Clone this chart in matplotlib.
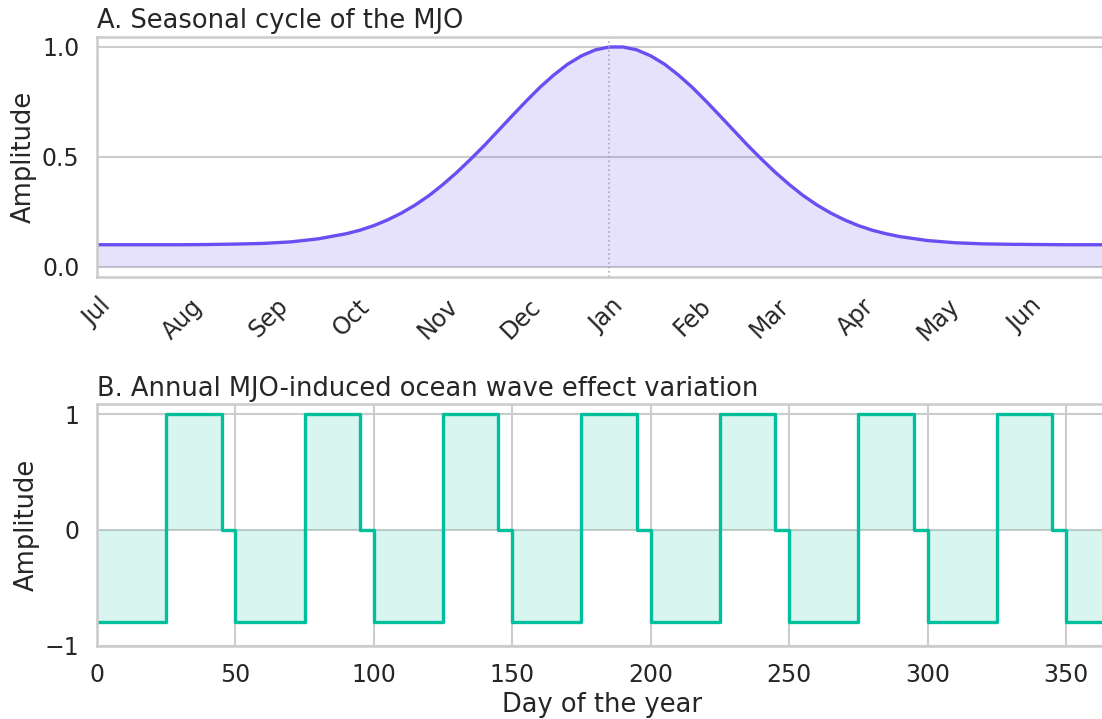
"""
MJO seasonal cycle and the annual wave-effect pattern
"""

import matplotlib
matplotlib.use('Agg')
import numpy as np
import matplotlib.pyplot as plt
import seaborn as sns

# Panel A: amplitude over the season, days counted from 1 Jul
season_days = [0, 10, 20, 30, 40, 50, 60, 70, 80, 90, 95,
               100, 105, 110, 115, 120, 125, 130, 135, 140, 145,
               150, 155, 160, 165, 170, 175, 180, 185, 190, 195,
               200, 205, 210, 215, 220, 225, 230, 235, 240, 245,
               250, 255, 260, 265, 270, 275, 280, 285, 290, 300,
               310, 320, 330, 340, 350, 365]
season_amp = [0.100, 0.100, 0.100, 0.100, 0.101, 0.103, 0.106, 0.113, 0.127, 0.150, 0.166,
              0.187, 0.213, 0.244, 0.281, 0.324, 0.374, 0.429, 0.489, 0.552, 0.619,
              0.686, 0.752, 0.815, 0.871, 0.920, 0.958, 0.985, 0.998, 0.998, 0.985,
              0.958, 0.920, 0.871, 0.815, 0.752, 0.686, 0.619, 0.552, 0.489, 0.429,
              0.374, 0.324, 0.281, 0.244, 0.213, 0.187, 0.166, 0.150, 0.137, 0.119,
              0.109, 0.104, 0.102, 0.101, 0.100, 0.100]
month_labels = ['Jul', 'Aug', 'Sep', 'Oct', 'Nov', 'Dec',
                'Jan', 'Feb', 'Mar', 'Apr', 'May', 'Jun']
month_start_days = [0, 31, 62, 92, 123, 153, 184, 215, 243, 274, 304, 335]
peak_day = 185

# Panel B: step pattern over the calendar year
step_days = [0, 25, 45, 50, 75, 95, 100, 125, 145, 150, 175, 195,
             200, 225, 245, 250, 275, 295, 300, 325, 345, 350, 365]
step_amp = [-0.8, 1, 0, -0.8, 1, 0, -0.8, 1, 0, -0.8, 1, 0,
            -0.8, 1, 0, -0.8, 1, 0, -0.8, 1, 0, -0.8]

purple = '#6B4EF2'
teal = '#00BF9C'

sns.set_theme(context='talk', style='whitegrid')
plt.rcParams.update({
    'axes.titlesize': 18.5,
    'axes.labelsize': 18.5,
    'xtick.labelsize': 17,
    'ytick.labelsize': 17,
})

fig = plt.figure(figsize=(11.02, 7.19), dpi=100)
ax1 = fig.add_axes([0.088, 0.6152, 0.917, 0.3338])
ax2 = fig.add_axes([0.088, 0.1022, 0.917, 0.3359])

# A. seasonal cycle
ax1.plot(season_days, season_amp, color=purple, linewidth=2.4)
ax1.fill_between(season_days, 0, season_amp, color=purple, alpha=0.16, linewidth=0)
ax1.axvline(peak_day, color='#aaaaaa', linestyle=':', linewidth=1.2)
ax1.set_xlim(0, 365)
ax1.set_ylim(-0.045, 1.045)
ax1.set_yticks([0.0, 0.5, 1.0])
ax1.set_xticks(month_start_days)
ax1.set_xticklabels(month_labels, rotation=45)
ax1.xaxis.grid(False)
ax1.set_ylabel('Amplitude')
ax1.set_title('A. Seasonal cycle of the MJO', loc='left')

# B. annual wave effect
step_vals = np.append(step_amp, step_amp[-1])
ax2.step(step_days, step_vals, where='post', color=teal, linewidth=2.4)
ax2.fill_between(step_days, 0, step_vals, step='post', color=teal, alpha=0.15, linewidth=0)
ax2.set_xlim(0, 365)
ax2.set_ylim(-1, 1.09)
ax2.set_yticks([-1, 0, 1])
ax2.set_xticks(range(0, 351, 50))
ax2.set_xlabel('Day of the year')
ax2.set_ylabel('Amplitude')
ax2.set_title('B. Annual MJO-induced ocean wave effect variation', loc='left')

fig.savefig('out.png', dpi=100)
